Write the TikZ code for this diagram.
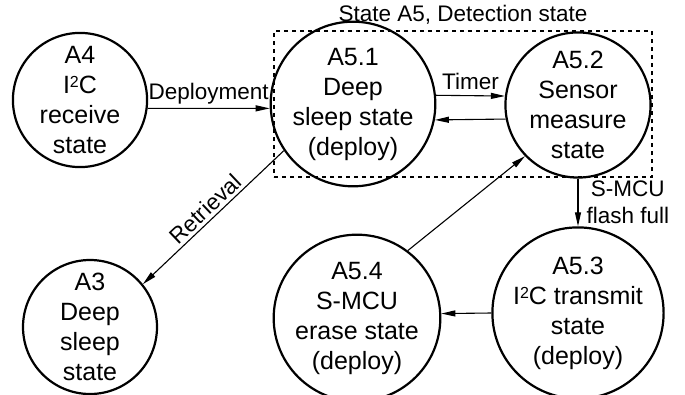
\documentclass[tikz,border=0pt]{standalone}
\usepackage{fontspec}
\setmainfont{Liberation Sans}
\usetikzlibrary{arrows.meta}
\newcommand{\sqtwo}{\raisebox{5.5pt}{\fontsize{16}{16}\selectfont 2}}
\begin{document}
\begin{tikzpicture}[x=1pt,y=-1pt,
  st/.style={circle,draw,line width=2.2pt,minimum size=#1,inner sep=0pt,align=center,font=\fontsize{25}{30}\selectfont},
  ar/.style={line width=1.1pt,-{Triangle[length=14pt,width=6pt]}},
  lab/.style={font=\fontsize{22.5}{27}\selectfont,inner sep=0pt},
  grp/.style={draw,line width=1.1pt,dash pattern=on 4pt off 4pt,minimum width=378pt,minimum height=146pt,inner sep=0pt}]
\useasboundingbox (0,0) rectangle (685,394);
\node[grp] (box) at (463,104) {};
\node[lab,above=6pt] (boxlab) at (box.north) {State A5, Detection state};
\node[st=134pt] (a4) at (80,100) {A4\\I\sqtwo C\\receive\\state};
\node[st=140pt] (a51) at (353,104) {A5.1\\Deep\\sleep state\\(deploy)};
\node[st=137pt] (a52) at (578,105) {A5.2\\Sensor\\measure\\state};
\node[st=134pt] (a3) at (90,327) {A3\\Deep\\sleep\\state};
\node[st=141pt] (a54) at (357,318) {A5.4\\S-MCU\\erase state\\(deploy)};
\node[st=140pt] (a53) at (578,313) {A5.3\\I\sqtwo C transmit\\state\\(deploy)};
\draw[ar] (a4.-7) -- node[lab,above=4pt] (ldep) {Deployment} (a51.183);
\draw[ar] (a51.6) -- node[lab,above=5pt] (ltim) {Timer} (a52.173);
\draw[ar] (a52.191) -- (a51.-11);
\draw[ar] (a52.south) -- node[lab,right=8pt,align=center] (lfull) {S-MCU\\flash full} (a53.north);
\draw[ar] (a53.west) -- (a54.3);
\draw[ar] (a54.53) -- (a52.224);
\draw[ar] (a51.214) -- node[lab,sloped,above=3pt] (lret) {Retrieval} (a3.39);
\end{tikzpicture}
\end{document}
